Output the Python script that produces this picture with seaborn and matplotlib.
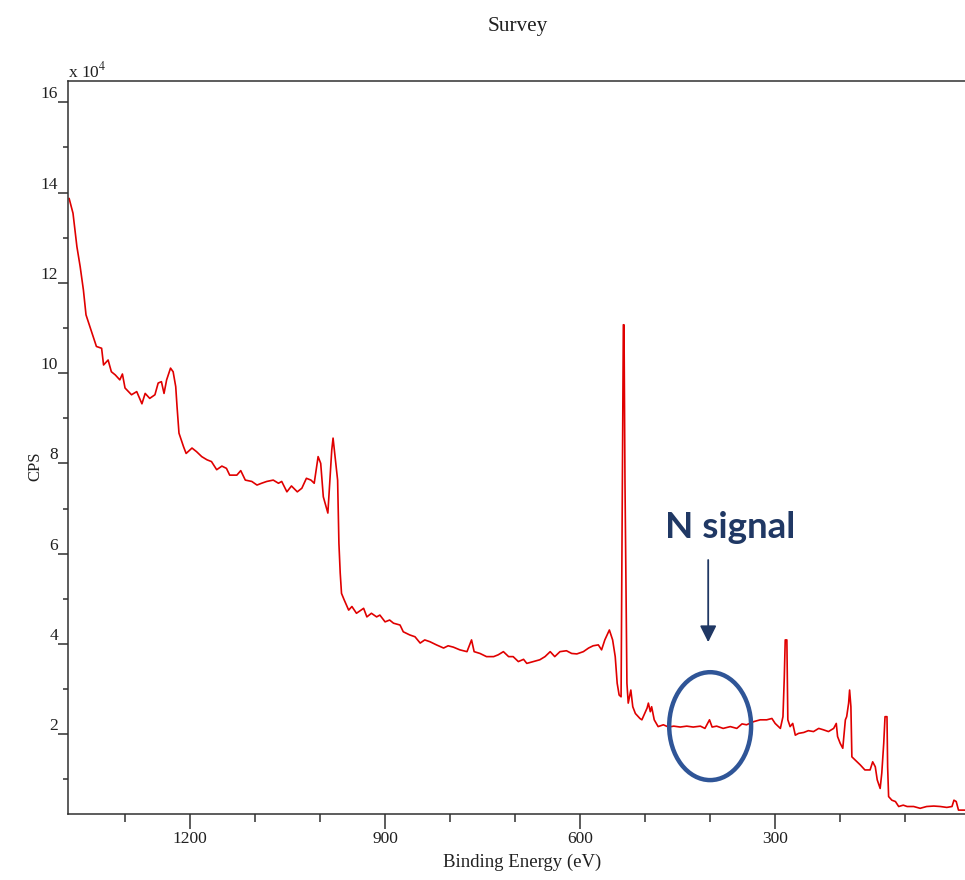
import numpy as np
import pandas as pd
import matplotlib
matplotlib.use("Agg")
import matplotlib.pyplot as plt
from matplotlib.patches import Ellipse
from matplotlib.ticker import MultipleLocator, FuncFormatter
import seaborn as sns

# ---- data (binding energy in eV, intensity in units of 1e4 CPS) ----
binding_energy = [
    1386, 1380, 1374, 1369, 1364, 1360, 1354, 1349, 1344, 1336, 1333, 1326, 1321, 1315, 1308, 1304,
    1300, 1290, 1282, 1274, 1269, 1262, 1254, 1249, 1244, 1240, 1236, 1230, 1226, 1222, 1220, 1217,
    1210, 1206, 1197, 1190, 1182, 1174, 1167, 1159, 1151, 1144, 1139, 1128, 1122, 1115, 1105, 1097,
    1090, 1082, 1072, 1064, 1059, 1051, 1044, 1035, 1028, 1021, 1014, 1009, 1003, 999, 995, 988,
    982, 980, 978, 973, 971, 969, 967, 963, 956, 951, 944, 933, 928, 921, 913, 908,
    900, 893, 887, 877, 872, 862, 854, 846, 839, 831, 821, 810, 803, 795, 785, 774,
    767, 763, 754, 744, 733, 726, 718, 710, 703, 695, 687, 682, 672, 662, 654, 646,
    639, 631, 621, 613, 605, 595, 587, 580, 572, 567, 562, 555, 550, 546, 543, 540,
    537, 536, 535, 533.5, 532.5, 531, 529.5, 528, 526, 522, 519, 515, 508, 505, 497, 495,
    492, 490, 486, 480, 472, 464, 456, 446, 436, 426, 415, 408, 401, 397, 390, 380,
    369, 359, 351, 344, 333, 323, 313, 305, 300, 292, 288, 286, 284.5, 282, 280.5, 277,
    273, 269, 264, 256, 249, 241, 233, 226, 218, 210, 206, 204, 200, 196, 192, 190,
    187, 185.5, 183.5, 182, 177, 169, 162, 154, 150, 146, 143, 138.5, 136, 133, 131, 128,
    127, 125.5, 120.5, 115, 110, 103, 97, 87, 77, 67, 56, 46, 36, 28, 25, 21.5,
    18, 13, 8,
]
cps_1e4 = [
    13.87, 13.54, 12.80, 12.36, 11.84, 11.29, 11.03, 10.81, 10.59, 10.55, 10.18, 10.29, 10.03, 9.96, 9.85, 9.98,
    9.67, 9.52, 9.59, 9.32, 9.55, 9.44, 9.52, 9.78, 9.81, 9.55, 9.85, 10.11, 10.03, 9.70, 9.26, 8.67,
    8.37, 8.22, 8.34, 8.26, 8.15, 8.08, 8.04, 7.86, 7.94, 7.89, 7.74, 7.74, 7.84, 7.63, 7.60, 7.52,
    7.56, 7.60, 7.63, 7.56, 7.60, 7.37, 7.50, 7.37, 7.45, 7.67, 7.63, 7.56, 8.15, 8.00, 7.26, 6.90,
    8.30, 8.56, 8.30, 7.63, 6.23, 5.57, 5.12, 4.98, 4.75, 4.83, 4.68, 4.79, 4.60, 4.68, 4.60, 4.64,
    4.49, 4.53, 4.46, 4.42, 4.27, 4.20, 4.16, 4.02, 4.09, 4.05, 3.98, 3.91, 3.96, 3.93, 3.87, 3.83,
    4.09, 3.83, 3.79, 3.72, 3.72, 3.76, 3.83, 3.72, 3.72, 3.61, 3.66, 3.57, 3.61, 3.65, 3.72, 3.83,
    3.72, 3.83, 3.85, 3.79, 3.78, 3.83, 3.91, 3.96, 3.98, 3.87, 4.09, 4.31, 4.09, 3.72, 3.13, 2.87,
    2.83, 5.42, 7.60, 11.07, 11.07, 7.60, 5.42, 3.13, 2.69, 2.98, 2.61, 2.46, 2.35, 2.32, 2.58, 2.69,
    2.50, 2.61, 2.32, 2.17, 2.21, 2.16, 2.18, 2.16, 2.18, 2.16, 2.18, 2.13, 2.32, 2.16, 2.18, 2.13,
    2.17, 2.13, 2.23, 2.21, 2.28, 2.32, 2.32, 2.35, 2.24, 2.13, 2.39, 3.24, 4.09, 4.09, 2.32, 2.17,
    2.24, 1.98, 2.02, 2.04, 2.08, 2.06, 2.13, 2.10, 2.06, 2.13, 2.24, 1.95, 1.80, 1.69, 2.32, 2.39,
    2.69, 2.98, 2.61, 1.50, 1.43, 1.32, 1.21, 1.21, 1.39, 1.28, 0.99, 0.80, 1.14, 1.80, 2.39, 2.39,
    1.28, 0.62, 0.54, 0.51, 0.40, 0.43, 0.40, 0.40, 0.36, 0.40, 0.41, 0.40, 0.38, 0.40, 0.54, 0.51,
    0.32, 0.32, 0.32,
]
x_tick_values = [1200, 900, 600, 300]
y_tick_labels = ["2", "4", "6", "8", "10", "12", "14", "16"]

df = pd.DataFrame({"Binding Energy (eV)": binding_energy,
                   "CPS": np.array(cps_1e4) * 1e4})

# ---- style ----
sns.set_theme(style="white")
plt.rcParams["font.family"] = ["Liberation Serif", "DejaVu Serif"]
plt.rcParams["mathtext.fontset"] = "stix"

W, H = 965, 880
fig = plt.figure(figsize=(W / 100, H / 100), dpi=100)
fig.patch.set_facecolor("white")
ax = fig.add_axes([68 / W, (H - 814) / H, (W - 68) / W, (814 - 81) / H])

sns.lineplot(data=df, x="Binding Energy (eV)", y="CPS", ax=ax, color="#e00000",
             linewidth=1.2, sort=False, estimator=None)

ax.set_xlim(1387.7, 8)
ax.set_ylim(2340, 164700)

ax.set_xticks(x_tick_values)
ax.xaxis.set_minor_locator(MultipleLocator(100))
ax.set_yticks([float(v) * 1e4 for v in y_tick_labels])
ax.set_yticklabels(y_tick_labels)
ax.yaxis.set_minor_locator(MultipleLocator(10000))

axis_col = "#303030"
for side in ["left", "bottom", "top"]:
    ax.spines[side].set_visible(True)
    ax.spines[side].set_color(axis_col)
    ax.spines[side].set_linewidth(1.1)
ax.spines["right"].set_visible(False)

ax.tick_params(axis="x", which="major", direction="out", length=10.5, width=1.1,
               color=axis_col, labelsize=12.5, pad=2, bottom=True, top=False,
               labelcolor="#202020")
ax.tick_params(axis="x", which="minor", direction="out", length=5.8, width=1.1,
               color=axis_col, bottom=True, top=False)
ax.tick_params(axis="y", which="major", direction="out", length=7.2, width=1.1,
               color=axis_col, labelsize=12.5, pad=0, left=True, right=False,
               labelcolor="#202020")
ax.tick_params(axis="y", which="minor", direction="out", length=3.6, width=1.1,
               color=axis_col, left=True, right=False)
ax.grid(False)

ax.set_xlabel("")
ax.set_ylabel("")
fig.canvas.draw()
for lab in ax.get_yticklabels():
    lab.set_verticalalignment("bottom")

# titles and labels
fig.text(518 / W, 1 - 27 / H, "Survey", ha="center", va="center", fontsize=15.3, color="#202020")
fig.text(522 / W, 1 - 862 / H, "Binding Energy (eV)", ha="center", va="center",
         fontsize=13.5, color="#202020")
fig.text(35 / W, 1 - 466 / H, "CPS", ha="center", va="center", rotation=90,
         fontsize=12, color="#202020")
ax.text(0.0, 1.0, r"x 10$^{4}$", transform=ax.transAxes, ha="left", va="bottom",
        fontsize=12.5, color="#202020")

# annotation: N signal
navy = "#203864"
ax.text(369, 63500, "N signal", ha="center", va="baseline", fontsize=26.5,
        fontweight="bold", color=navy, family=["Lato", "DejaVu Sans"])
ax.annotate("", xy=(403, 40400), xytext=(403, 58600),
            arrowprops=dict(arrowstyle="-|>,head_length=0.5,head_width=0.25",
                            color=navy, lw=1.3, mutation_scale=20,
                            shrinkA=0, shrinkB=0))
ax.add_patch(Ellipse((400, 21800), width=126, height=23900, fill=False,
                     edgecolor="#2f5597", linewidth=3.2, zorder=5))

fig.savefig("out.png", dpi=100, facecolor="white")
